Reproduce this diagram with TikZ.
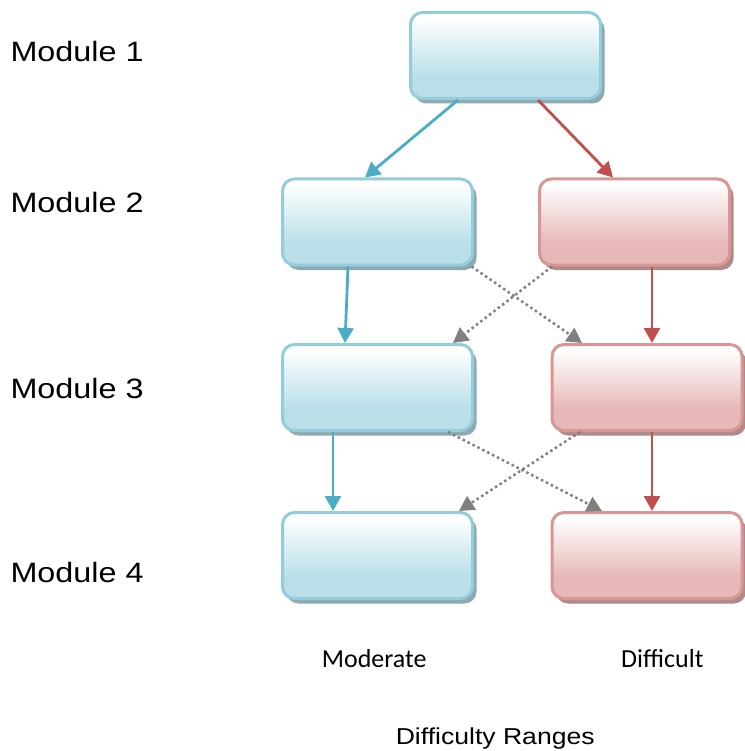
\documentclass[tikz,border=0pt]{standalone}
\usepackage{graphicx}
\usepackage{fontspec}
\setmainfont{Liberation Sans}
\newfontfamily\calib{Carlito}
\usetikzlibrary{arrows.meta,shadows}
\definecolor{bborder}{HTML}{93CDDD}
\definecolor{bfill}{HTML}{BADFE8}
\definecolor{bshadow}{HTML}{8EA9B0}
\definecolor{rborder}{HTML}{D99694}
\definecolor{rfill}{HTML}{E6B9B8}
\definecolor{rshadow}{HTML}{AE8A8A}
\definecolor{barrow}{HTML}{4BACC6}
\definecolor{rarrow}{HTML}{C0504D}
\definecolor{garrow}{HTML}{808080}
\pgfdeclareverticalshading{blueshade}{100bp}{color(0bp)=(bfill); color(25bp)=(bfill); color(38bp)=(bfill); color(72bp)=(white); color(100bp)=(white)}
\pgfdeclareverticalshading{redshade}{100bp}{color(0bp)=(rfill); color(25bp)=(rfill); color(38bp)=(rfill); color(72bp)=(white); color(100bp)=(white)}
\newcommand{\widetext}[1]{\scalebox{1.155}[1]{#1}}
\tikzset{
  box/.style={rounded corners=12pt, line width=3pt, minimum width=190pt, minimum height=86pt, inner sep=0pt},
  bluebox/.style={box, draw=bborder, shading=blueshade, drop shadow={fill=bshadow, opacity=1, shadow xshift=4pt, shadow yshift=-5pt}},
  redbox/.style={box, draw=rborder, shading=redshade, drop shadow={fill=rshadow, opacity=1, shadow xshift=4pt, shadow yshift=-5pt}},
  conn/.style={line width=2.8pt, -{Triangle[length=15pt,width=16pt]}},
  bconn/.style={conn, draw=barrow, fill=barrow},
  rconn/.style={conn, draw=rarrow, fill=rarrow},
  gconn/.style={line width=2.5pt, draw=garrow, dash pattern=on 2.5pt off 3pt, -{Triangle[length=15pt,width=16pt,fill=garrow]}},
  modlabel/.style={anchor=base west, inner sep=0pt, font=\fontsize{28}{33}\selectfont},
  titlelabel/.style={anchor=base west, inner sep=0pt, font=\fontsize{23}{28}\selectfont},
  rangelabel/.style={anchor=base west, inner sep=0pt, font=\calib\fontsize{26}{31}\selectfont}
}
\begin{document}
\begin{tikzpicture}[x=1pt,y=-1pt]
\useasboundingbox (0,0) rectangle (744,751);
\node[bluebox] (m1) at (505.5,55.5) {};
\node[bluebox] (m2l) at (377.5,222) {};
\node[redbox] (m2r) at (634.5,222) {};
\node[bluebox] (m3l) at (377.5,387.5) {};
\node[redbox] (m3r) at (647,387.5) {};
\node[bluebox] (m4l) at (377.5,555.5) {};
\node[redbox] (m4r) at (647,555.5) {};

\draw[bconn] ([xshift=-47.5pt]m1.south) -- ([xshift=-12.5pt]m2l.north);
\draw[rconn] ([xshift=32.5pt]m1.south) -- ([xshift=-21.5pt]m2r.north);
\draw[bconn] ([xshift=-29.5pt]m2l.south) -- ([xshift=-32.5pt]m3l.north);
\draw[rconn] ([xshift=17.5pt]m2r.south) -- ([xshift=5pt]m3r.north);
\draw[gconn] ([xshift=94pt]m2l.south) -- ([xshift=-65pt]m3r.north);
\draw[gconn] ([xshift=-82.5pt]m2r.south) -- ([xshift=75.5pt]m3l.north);
\draw[bconn] ([xshift=-44.5pt]m3l.south) -- ([xshift=-44.5pt]m4l.north);
\draw[rconn] ([xshift=5pt]m3r.south) -- ([xshift=5pt]m4r.north);
\draw[gconn] ([xshift=70.5pt]m3l.south) -- ([xshift=-45pt]m4r.north);
\draw[gconn] ([xshift=-67pt]m3r.south) -- ([xshift=81.5pt]m4l.north);

\node[modlabel] (l1) at (10.3,62) {\widetext{Module 1}};
\node[modlabel] (l2) at (10.3,212) {\widetext{Module 2}};
\node[modlabel] (l3) at (10.3,398) {\widetext{Module 3}};
\node[modlabel] (l4) at (10.3,582) {\widetext{Module 4}};
\node[rangelabel] (mod) at (321.7,667) {Moderate};
\node[rangelabel] (dif) at (621,667) {Difficult};
\node[titlelabel] (dr) at (395.6,744.3) {\widetext{Difficulty Ranges}};
\end{tikzpicture}
\end{document}
